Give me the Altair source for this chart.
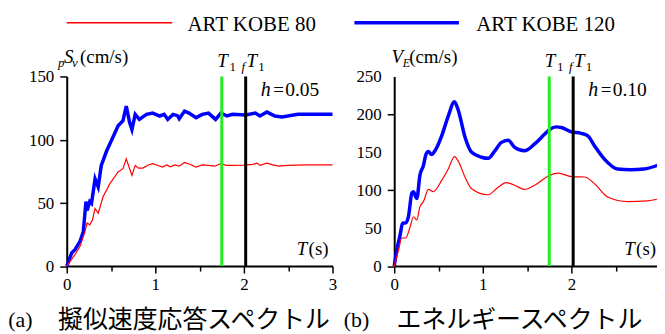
import altair as alt
import pandas as pd

# ---------------- data ----------------
SERIES = ["ART KOBE 80", "ART KOBE 120"]
T1 = 1.75
FT1 = 2.02

# (a) pseudo velocity response spectrum, h = 0.05
A120_T = [0, 0.056, 0.093, 0.15, 0.187, 0.217, 0.23, 0.26, 0.28, 0.32, 0.355, 0.39, 0.45, 0.52,
          0.58, 0.635, 0.672, 0.71, 0.736, 0.773, 0.82, 0.86, 0.9, 0.97, 1.05, 1.1, 1.14, 1.2,
          1.25, 1.27, 1.33, 1.38, 1.46, 1.53, 1.6, 1.68, 1.74, 1.81, 1.87, 2.02, 2.13, 2.18,
          2.26, 2.35, 2.43, 2.61, 2.8, 3.0]
A120_V = [0, 10.4, 13, 19.6, 27, 51, 44, 51, 49.6, 69, 62.6, 79.6, 91, 101.7,
          111, 115, 126.5, 113.5, 108, 120, 116, 118, 120, 121, 118.7, 120, 116, 120,
          119, 116.5, 122.6, 121, 117.4, 120, 121, 116, 121, 118.7, 120, 119.5, 121, 118.7,
          121.8, 118.7, 118, 120, 120, 120]

A80_T = [0, 0.093, 0.15, 0.205, 0.23, 0.26, 0.29, 0.32, 0.355, 0.41, 0.486, 0.58, 0.635, 0.672,
         0.71, 0.736, 0.773, 0.81, 0.86, 0.92, 0.97, 1.03, 1.08, 1.13, 1.17, 1.22, 1.27, 1.33,
         1.39, 1.46, 1.53, 1.6, 1.67, 1.74, 1.8, 1.87, 2.0, 2.1, 2.15, 2.18, 2.26, 2.33, 2.39,
         2.5, 2.7, 3.0]
A80_V = [0, 9, 15.6, 27, 34, 32.6, 36.5, 45.6, 41.7, 54.8, 65, 74.4, 77, 84.8,
         77, 71.7, 79.6, 77.5, 77.5, 80, 81, 79.5, 78.3, 80, 78.5, 80, 79, 82,
         80.5, 78.3, 80, 79.6, 79, 81, 79.6, 79.6, 79.8, 80.5, 81.4, 79.6, 81.4, 80, 79,
         79.6, 80, 80]

# (b) energy spectrum, h = 0.10
B120_T = [0, 0.03, 0.067, 0.094, 0.13, 0.16, 0.2, 0.217, 0.244, 0.255, 0.29, 0.33, 0.36, 0.386,
          0.42, 0.46, 0.536, 0.61, 0.68, 0.72, 0.8, 0.874, 0.986, 1.06, 1.136, 1.21, 1.286,
          1.36, 1.47, 1.586, 1.7, 1.755, 1.83, 1.886, 2.0, 2.11, 2.186, 2.26, 2.37, 2.52, 2.67,
          2.82, 3.0]
B120_V = [0, 21.7, 41, 56.5, 57, 65, 96.5, 98, 91, 89, 119.6, 132.6, 147.8, 151,
          147, 152, 171.7, 197.8, 216.5, 206.5, 169.6, 150, 143.5, 142, 152, 163, 166,
          156.5, 152, 161, 174, 180, 183.5, 182.6, 177, 175, 171.7, 158.7, 141.3, 128, 127,
          128, 134]

B80_T = [0, 0.05, 0.086, 0.13, 0.18, 0.217, 0.255, 0.29, 0.33, 0.386, 0.44, 0.536, 0.61, 0.68,
         0.72, 0.8, 0.874, 1.06, 1.17, 1.265, 1.36, 1.47, 1.586, 1.755, 1.85, 2.0, 2.15, 2.26,
         2.41, 2.636, 2.86, 3.0]
B80_V = [0, 21.7, 37, 37, 52, 65, 61, 78, 85, 101, 98, 113, 128, 144.3,
         139, 117, 102, 94, 103.5, 110, 106.5, 101, 106.5, 119.6, 122.6, 118, 117.4, 108.7,
         91, 85, 86, 89]

X_TICKS = [0, 0.5, 1, 1.5, 2, 2.5, 3]
YA_TICKS = [0, 25, 50, 75, 100, 125, 150]
YB_TICKS = [0, 25, 50, 75, 100, 125, 150, 175, 200, 225, 250]
YA_LABELS = [0, 50, 100, 150]
YB_LABELS = [0, 50, 100, 150, 200, 250]

CAPTION_A = "擬似速度応答スペクトル"
CAPTION_B = "エネルギースペクトル"

# ---------------- style ----------------
RED = "#ff0000"
BLUE = "#0000ff"
GREEN = "#22ee22"
SERIF = "Liberation Serif, Tinos, 'Times New Roman', Times, 'DejaVu Serif', serif"
JP = "Noto Sans CJK JP"
W, H = 267, 190.5


def txt(s, x, y, size=19, italic=False, font=SERIF, baseline="alphabetic"):
    kw = dict(text=s, font=font, fontSize=size, align="left", baseline=baseline, color="black")
    if italic:
        kw["fontStyle"] = "italic"
    return alt.Chart().mark_text(**kw).encode(x=alt.value(x), y=alt.value(y))


def hline(x1, x2, y, color, width):
    return alt.Chart().mark_rule(color=color, strokeWidth=width).encode(
        x=alt.value(x1), x2=alt.value(x2), y=alt.value(y))


def axis(values, major, labels=True):
    kw = dict(values=values, labelOverlap=False, labelFlush=False,
              tickSize={"condition": {"test": f"datum.value % {major} === 0", "value": 7},
                        "value": 5})
    if labels:
        kw["labelExpr"] = f"datum.value % {major} === 0 ? format(datum.value, 'd') : ''"
    else:
        kw["labels"] = False
    return alt.Axis(**kw)


def panel(t80, v80, t120, v120, ymax, yticks, ylabels, interp, ylab, hval, cap_tag, cap_text,
          cap_x0, cap_x1, extra):
    xenc = alt.X("T:Q", scale=alt.Scale(domain=[0, 3], nice=False), title=None,
                 axis=axis(X_TICKS, 1))
    yenc = alt.Y("v:Q", scale=alt.Scale(domain=[0, ymax], nice=False), title=None,
                 axis=axis(yticks, 50, labels=False))
    d120 = pd.DataFrame({"T": t120, "v": v120})
    d80 = pd.DataFrame({"T": t80, "v": v80})
    l120 = alt.Chart(d120).mark_line(color=BLUE, strokeWidth=3.5, interpolate=interp).encode(
        x=xenc, y=yenc)
    l80 = alt.Chart(d80).mark_line(color=RED, strokeWidth=1.2, interpolate=interp).encode(
        x="T:Q", y="v:Q")
    vl = pd.DataFrame({"T": [T1, FT1], "c": ["g", "k"]})
    rules = alt.Chart(vl).mark_rule(strokeWidth=3).encode(
        x="T:Q", y=alt.datum(0), y2=alt.datum(ymax),
        color=alt.Color("c:N", scale=alt.Scale(domain=["g", "k"], range=[GREEN, "black"]),
                        legend=None))
    ytl = alt.Chart(pd.DataFrame({"v": ylabels})).mark_text(
        font=SERIF, fontSize=17, align="right", baseline="middle", color="black", dy=1).encode(
        y="v:Q", x=alt.value(-12.5), text=alt.Text("v:Q", format="d"))
    layers = [l120, l80, rules, ytl]
    layers += ylab
    # T1 and fT1 labels
    layers += [txt("T", 151.3, -9.5, 19, True), txt("1", 163.5, -5.5, 13),
               txt("f", 175.5, -5.5, 13, True), txt("T", 180.5, -9.5, 19, True),
               txt("1", 192.5, -5.5, 13)]
    layers += [txt("h", 195, 19.5, 20, True), txt("=", 207.5, 19.5, 19),
               txt(hval, 219.5, 19.5, 19.5)]
    layers += [txt("T", 231, 179.5, 19, True), txt("(s)", 243, 179.5, 19)]
    layers += [txt(cap_tag, cap_x0, 251.5, 22),
               txt(cap_text, cap_x1, 245, 25, font=JP, baseline="middle")]
    layers += extra
    return alt.layer(*layers).properties(width=W, height=H)


ylab_a = [txt("p", -8.7, -9.5, 13, True), txt("S", -2.7, -13.5, 19, True),
          txt("v", 5.3, -9.5, 13, True), txt("(cm/s)", 13.3, -13.5, 19)]
ylab_b = [txt("V", -2.7, -13.5, 19, True), txt("E", 8.5, -9.5, 12, True),
          txt("(cm/s)", 15, -13.5, 19)]

legend = [hline(0, 106, -54, RED, 1.5), txt(SERIES[0], 121.3, -46, 21),
          hline(289, 394, -54, BLUE, 3.5), txt(SERIES[1], 411.3, -46, 21),
          alt.Chart().mark_rule(opacity=0).encode(x=alt.value(-58.7), x2=alt.value(-58.7),
                                                  y=alt.value(-67.5), y2=alt.value(-67.5))]

left = panel(A80_T, A80_V, A120_T, A120_V, 150, YA_TICKS, YA_LABELS, "linear", ylab_a, "0.05",
             "(a)", CAPTION_A, -58.7, -8.7, legend)
right = panel(B80_T, B80_V, B120_T, B120_V, 250, YB_TICKS, YB_LABELS, "monotone", ylab_b,
              "0.10", "(b)", CAPTION_B, -50.7, 2.3, [])

chart = alt.hconcat(left, right, spacing=62, bounds="flush").resolve_scale(
    x="independent", y="independent").properties(
    padding={"left": 0, "top": 0, "right": -10, "bottom": 0}).configure_view(
    strokeWidth=0).configure_axis(
    grid=False, domainColor="black", domainWidth=2, tickColor="black", tickWidth=1.5,
    labelFont=SERIF, labelFontSize=17, labelColor="black", labelPadding=4)

chart.save("out.html", embed_options={"renderer": "svg", "actions": False})
